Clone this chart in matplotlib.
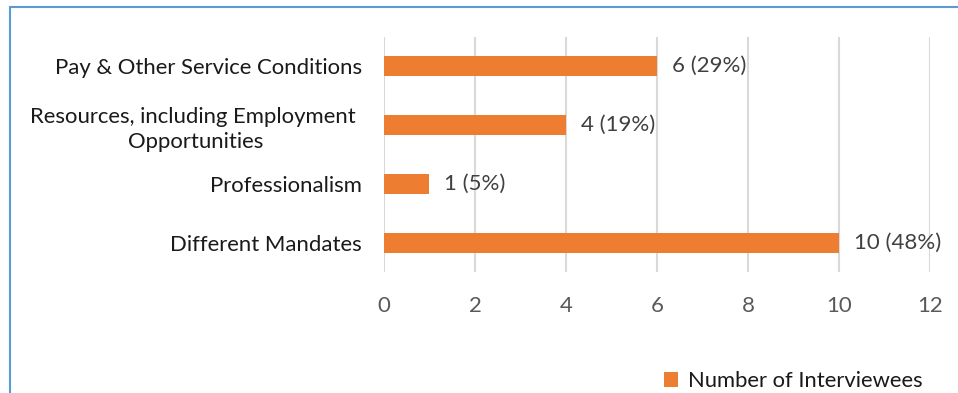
import matplotlib
matplotlib.use("Agg")
import matplotlib.pyplot as plt
from matplotlib.patches import Rectangle

# ── Data ─────────────────────────────────────────────────────
categories = [
    "Different Mandates",
    "Professionalism",
    "Resources, including Employment \nOpportunities",
    "Pay & Other Service Conditions",
]
counts = [10, 1, 4, 6]
shares = [48, 5, 19, 29]
series_name = "Number of Interviewees"
x_ticks = [0, 2, 4, 6, 8, 10, 12]

ORANGE = "#ED7D31"
GRID = "#D9D9D9"
plt.rcParams["font.family"] = ["Lato", "DejaVu Sans"]

# ── Figure ───────────────────────────────────────────────────
fig = plt.figure(figsize=(9.58, 3.93), dpi=100)
ax = fig.add_axes([0.4008, 0.3079, 0.5700, 0.5980])

ypos = list(range(len(categories)))
ax.barh(ypos, counts, height=0.34, color=ORANGE, zorder=3,
        label=series_name)

for y, c, s in zip(ypos, counts, shares):
    ax.text(c + 0.32, y, f"{c} ({s}%)", va="center", ha="left",
            fontsize=16, color="#404040")

ax.set_xlim(0, 12)
ax.set_ylim(-0.5, 3.5)
ax.set_xticks(x_ticks)
ax.set_yticks(ypos)
ax.set_yticklabels(categories, fontsize=15.9, color="#1a1a1a",
                   ha="right", multialignment="center", linespacing=1.3)
ax.tick_params(axis="x", length=0, pad=17, labelsize=16,
               labelcolor="#595959")
ax.tick_params(axis="y", length=0, pad=16)
ax.grid(True, axis="x", color=GRID, linewidth=1.5, zorder=0)
for side in ["top", "right", "bottom", "left"]:
    ax.spines[side].set_visible(False)

# legend at the lower right
leg = fig.legend(loc="lower right", bbox_to_anchor=(0.963, 0.005),
                 frameon=False, fontsize=15.8, handlelength=0.65,
                 handleheight=0.65, handletextpad=0.45,
                 borderaxespad=0, borderpad=0)
for t in leg.get_texts():
    t.set_color("#1a1a1a")

# blue frame around the chart area
fig.add_artist(Rectangle((10 / 958, -0.5), 2.0, 1.5 - 7 / 393,
                         transform=fig.transFigure, fill=False,
                         edgecolor="#5B9BD5", linewidth=1.5))

fig.savefig("out.png", dpi=100)
